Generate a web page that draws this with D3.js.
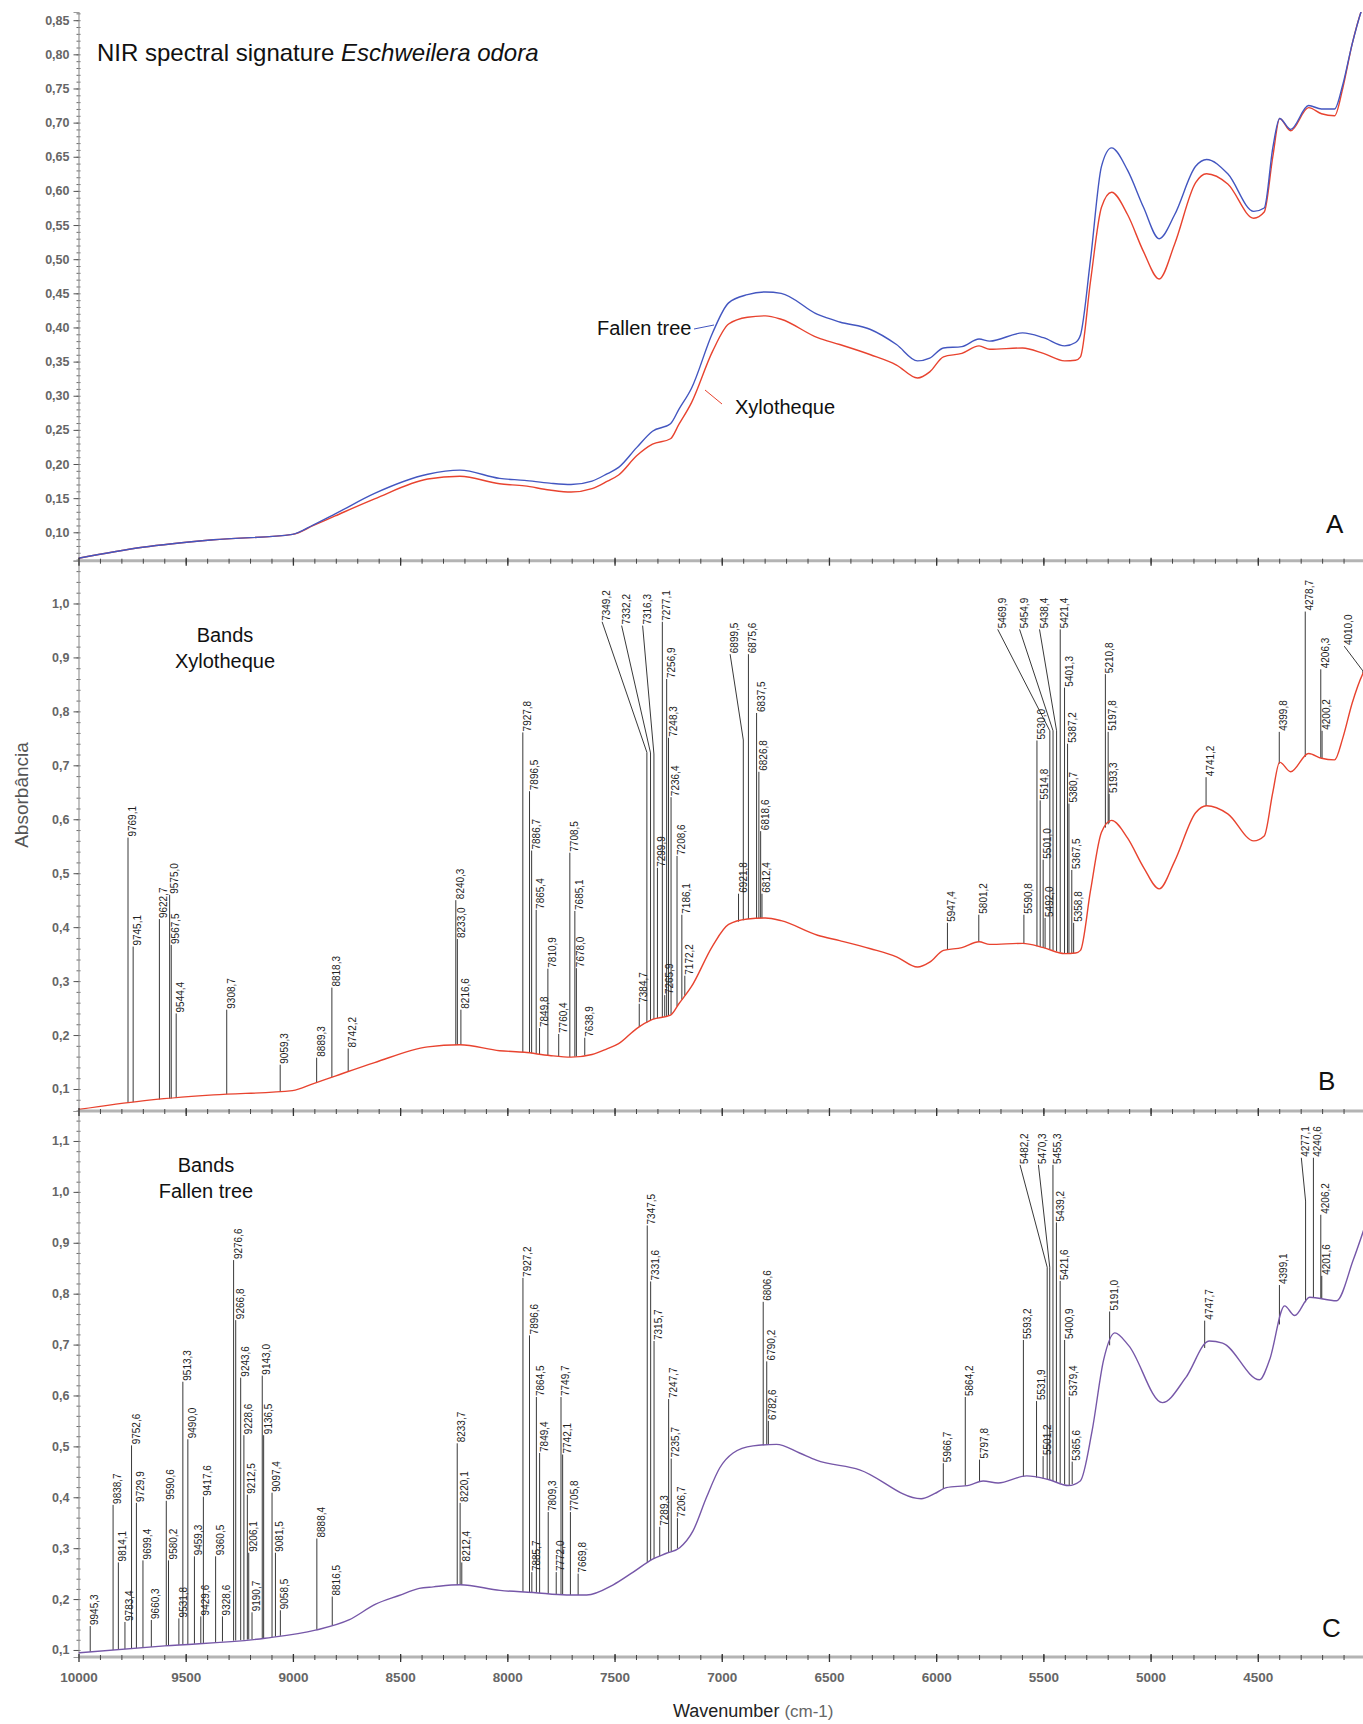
<!DOCTYPE html>
<html>
<head>
<meta charset="utf-8">
<script src="https://cdn.jsdelivr.net/npm/d3@7"></script>
<style>
  body { margin: 0; background: #fff; }
  svg { display: block; font-family: "Liberation Sans", Arial, sans-serif; }
</style>
</head>
<body>
<div class="chart"></div>
<script>
// spectra (wavenumber, absorbance)
const wnA = [10000,9701,9370,9002,8904,8803,8619,8371,8221,8036,7920,7803,7703,7605,7533,7481,7397,7323,7239,7200,
  7141,7043,6968,6880,6796,6723,6553,6450,6306,6185,6087,6030,5966,5880,5800,5750,5597,5500,5401,5350,
  5327,5280,5229,5182,5107,5033,4960,4888,4790,4739,4640,4519,4470,4430,4398,4347,4263,4203,4142,4104,
  4060,4010,3990];
const fallenA = [0.062,0.078,0.089,0.097,0.111,0.127,0.157,0.185,0.191,0.179,0.176,0.172,0.170,0.175,0.186,0.195,0.224,0.248,0.259,0.280,
  0.311,0.392,0.436,0.448,0.452,0.450,0.419,0.408,0.397,0.375,0.351,0.355,0.370,0.372,0.383,0.380,0.392,0.385,0.373,0.378,
  0.389,0.500,0.636,0.663,0.630,0.576,0.530,0.565,0.636,0.646,0.625,0.570,0.575,0.663,0.706,0.690,0.725,0.720,0.720,0.755,
  0.815,0.870,0.885];
const xylo = [0.062,0.078,0.089,0.097,0.110,0.124,0.149,0.178,0.182,0.171,0.168,0.162,0.159,0.164,0.175,0.184,0.212,0.229,0.237,0.258,
  0.290,0.365,0.405,0.415,0.417,0.412,0.385,0.375,0.360,0.345,0.326,0.335,0.357,0.362,0.373,0.368,0.370,0.362,0.351,0.352,
  0.357,0.468,0.576,0.598,0.565,0.511,0.471,0.522,0.612,0.625,0.610,0.560,0.569,0.650,0.706,0.688,0.722,0.713,0.710,0.750,
  0.815,0.870,0.885];

const wnC = [10000,9598,9130,8895,8739,8614,8505,8411,8345,8220,8034,7879,7724,7630,7506,7413,7320,7258,7196,7134,
  7071,7009,6947,6854,6745,6637,6559,6357,6070,6008,5953,5844,5781,5711,5578,5477,5383,5328,5273,5219,
  5167,5102,4945,4836,4727,4664,4492,4445,4375,4328,4258,4133,4055,3992];
const fallenC = [0.0945,0.108,0.123,0.139,0.159,0.190,0.207,0.221,0.224,0.228,0.217,0.213,0.208,0.208,0.228,0.253,0.279,0.290,0.301,0.334,
  0.400,0.458,0.487,0.501,0.504,0.487,0.473,0.454,0.397,0.407,0.419,0.424,0.432,0.428,0.442,0.435,0.423,0.432,0.530,0.670,
  0.723,0.698,0.586,0.635,0.707,0.703,0.631,0.670,0.776,0.757,0.793,0.786,0.866,0.943];

// bands: [wavenumber, absorbance where the label starts]
const bandsXylo = [[9769.1,0.566],[9745.1,0.364],[9622.7,0.415],[9575.0,0.460],[9567.5,0.367],[9544.4,0.240],[9308.7,0.247],
  [9059.3,0.145],[8889.3,0.158],[8818.3,0.288],[8742.2,0.175],[8240.3,0.450],[8233.0,0.378],[8216.6,0.247],
  [7927.8,0.761],[7896.5,0.652],[7886.7,0.542],[7865.4,0.432],[7849.8,0.213],[7810.9,0.323],[7760.4,0.202],
  [7708.5,0.538],[7685.1,0.430],[7678.0,0.324],[7638.9,0.195],[7384.7,0.258],[7299.9,0.510],[7277.1,0.966],
  [7265.9,0.274],[7256.9,0.860],[7248.3,0.751],[7236.4,0.641],[7208.6,0.532],[7186.1,0.423],[7172.2,0.310],
  [6921.8,0.462],[6875.6,0.906],[6837.5,0.797],[6826.8,0.688],[6818.6,0.578],[6812.4,0.462],
  [5947.4,0.408],[5801.2,0.423],[5590.8,0.423],[5530.0,0.746],[5514.8,0.635],[5501.0,0.525],[5492.0,0.417],
  [5421.4,0.952],[5401.3,0.844],[5387.2,0.740],[5380.7,0.629],[5367.5,0.506],[5358.8,0.408],
  [5210.8,0.869],[5197.8,0.762],[5193.3,0.647],[4741.2,0.678],[4399.8,0.762],[4278.7,0.985],[4206.3,0.878],[4200.2,0.764]];
// leader bands: [wavenumber, absorbance of bend, wavenumber of label, absorbance of label]
const leadersXylo = [[7349.2,0.724,7558,0.966],[7332.2,0.723,7467,0.959],[7316.3,0.721,7369,0.959],[6899.5,0.747,6961,0.906],
  [5469.9,0.764,5713,0.952],[5454.9,0.764,5611,0.952],[5438.4,0.764,5518,0.952],[4010.0,0.875,4097,0.921]];

const bandsFallen = [[9945.3,0.147],[9838.7,0.385],[9814.1,0.272],[9783.4,0.155],[9752.6,0.502],[9729.9,0.389],[9699.4,0.276],
  [9660.3,0.159],[9590.6,0.393],[9580.2,0.276],[9531.8,0.162],[9513.3,0.627],[9490.0,0.514],[9459.3,0.284],
  [9429.6,0.166],[9417.6,0.401],[9360.5,0.284],[9328.6,0.166],[9276.6,0.866],[9266.8,0.748],[9243.6,0.635],
  [9228.6,0.522],[9212.5,0.405],[9206.1,0.291],[9190.7,0.174],[9143.0,0.639],[9136.5,0.522],[9097.4,0.409],
  [9081.5,0.291],[9058.5,0.178],[8888.4,0.319],[8816.5,0.205],[8233.7,0.506],[8220.1,0.389],[8212.4,0.272],
  [7927.2,0.831],[7896.6,0.718],[7885.7,0.253],[7864.5,0.597],[7849.4,0.487],[7809.3,0.371],[7772.0,0.253],
  [7749.7,0.597],[7742.1,0.484],[7705.8,0.371],[7669.8,0.250],[7347.5,0.934],[7331.6,0.824],[7315.7,0.707],
  [7289.3,0.342],[7247.7,0.593],[7235.7,0.476],[7206.7,0.359],[6806.6,0.784],[6790.2,0.667],[6782.6,0.550],
  [5966.7,0.467],[5864.2,0.597],[5797.8,0.474],[5593.2,0.709],[5531.9,0.589],[5501.2,0.481],[5455.3,1.053],
  [5439.2,0.940],[5421.6,0.825],[5400.9,0.709],[5379.4,0.597],[5365.6,0.470],[5191.0,0.765],[4747.7,0.747],
  [4399.1,0.817],[4240.6,1.067],[4206.2,0.955],[4201.6,0.835]];
const leadersFallen = [[5482.2,0.852,5609,1.053],[5470.3,0.852,5523,1.053],[4277.1,0.982,4297,1.067]];

const xTicks = d3.range(4500, 10001, 500);
const yTicksA = d3.range(0.10, 0.851, 0.05);
const yTicksB = d3.range(0.1, 1.01, 0.1);
const yTicksC = d3.range(0.1, 1.11, 0.1);

const W = 1363, H = 1724;
const svg = d3.select(".chart").append("svg")
  .attr("width", W).attr("height", H);
svg.append("rect").attr("width", W).attr("height", H).attr("fill", "#fff");

const x = d3.scaleLinear().domain([10000, 4000]).range([78.5, 1365]);
const x0 = x(10000);

const yA = d3.scaleLinear().domain([0.0584, 0.862]).range([560.7, 12]);
const yB = d3.scaleLinear().domain([0.0592, 1.0793]).range([1111, 560.7]);
const yC = d3.scaleLinear().domain([0.0862, 1.1589]).range([1657, 1111]);

const comma = (d, n) => d.toFixed(n).replace(".", ",");

// linear reading of a spectrum at one wavenumber (for the foot of a band line)
function specAt(wn, ws, vs) {
  let i = 0;
  while (i < ws.length - 2 && ws[i + 1] > wn) i++;
  const t = (ws[i] - wn) / (ws[i] - ws[i + 1]);
  return vs[i] + t * (vs[i + 1] - vs[i]);
}

function clipFor(id, y) {
  const r = y.range();
  svg.append("clipPath").attr("id", id).append("rect")
    .attr("x", x0).attr("y", r[1]).attr("width", W - x0).attr("height", r[0] - r[1]);
}
clipFor("cA", yA); clipFor("cB", yB); clipFor("cC", yC);

function yAxis(y, ticks, minorStep, digits) {
  const g = svg.append("g").attr("transform", `translate(${x0},0)`);
  const d = y.domain();
  const minor = d3.range(Math.ceil(d[0] / minorStep) * minorStep, d[1], minorStep);
  g.append("g").call(d3.axisLeft(y).tickValues(minor).tickSize(2).tickFormat(""))
    .call(a => a.select(".domain").remove())
    .call(a => a.selectAll("line").attr("stroke", "#666").attr("x2", 2).attr("x1", -2));
  g.append("g").call(d3.axisLeft(y).tickValues(ticks).tickSize(5).tickPadding(4)
      .tickFormat(v => comma(v, digits)))
    .call(a => a.select(".domain").attr("stroke", "#999").attr("stroke-width", 1.2))
    .call(a => a.selectAll("line").attr("stroke", "#555"))
    .call(a => a.selectAll("text").attr("font-size", 12.5).attr("fill", "#666").attr("font-weight", "bold")
      .attr("font-family", "Liberation Sans, Arial, sans-serif"));
}

function xAxis(yPos, labels) {
  const g = svg.append("g").attr("transform", `translate(0,${yPos})`);
  g.append("line").attr("x1", x0).attr("x2", W).attr("stroke", "#b4b4b4").attr("stroke-width", 3);
  g.append("g").call(d3.axisBottom(x).tickValues(d3.range(4100, 10000, 100)).tickSize(3).tickFormat(""))
    .call(a => a.select(".domain").remove())
    .call(a => a.selectAll("line").attr("stroke", "#444").attr("y1", -2));
  const maj = g.append("g").call(d3.axisBottom(x).tickValues(xTicks).tickSize(5).tickPadding(10)
      .tickFormat(labels ? d3.format("d") : ""))
    .call(a => a.select(".domain").remove())
    .call(a => a.selectAll("line").attr("stroke", "#333").attr("y1", -3).attr("stroke-width", 1.3));
  maj.selectAll("text").attr("font-size", 13.5).attr("fill", "#666").attr("font-weight", "bold")
    .attr("font-family", "Liberation Sans, Arial, sans-serif");
}

function spectrum(ws, vs, y, color, clip) {
  const line = d3.line().x(d => x(d[0])).y(d => y(d[1])).curve(d3.curveMonotoneX);
  svg.append("path").datum(d3.zip(ws, vs))
    .attr("clip-path", `url(#${clip})`)
    .attr("d", line).attr("fill", "none").attr("stroke", color).attr("stroke-width", 1.4);
}

function bandLabel(g, px, py, wn) {
  g.append("text")
    .attr("transform", `translate(${px + 8},${py - 1}) rotate(-90)`)
    .attr("font-size", 10).attr("fill", "#222")
    .text(comma(wn, 1));
}

function drawBands(y, bands, leaders, ws, vs, clip) {
  const g = svg.append("g").attr("clip-path", `url(#${clip})`);
  bands.forEach(([wn, top]) => {
    const bx = x(wn);
    g.append("line").attr("x1", bx).attr("x2", bx)
      .attr("y1", y(specAt(wn, ws, vs))).attr("y2", y(top))
      .attr("stroke", "#222").attr("stroke-width", 0.9);
    bandLabel(g, bx, y(top), wn);
  });
  leaders.forEach(([wn, bend, lw, top]) => {
    const bx = x(wn);
    const pts = [[bx, y(specAt(wn, ws, vs))], [bx, y(bend)], [x(lw), y(top)]];
    g.append("polyline").attr("points", pts.map(p => p.join(",")).join(" "))
      .attr("fill", "none").attr("stroke", "#222").attr("stroke-width", 0.9);
    bandLabel(g, x(lw), y(top), wn);
  });
}

// axes
yAxis(yA, yTicksA, 0.01, 2);
yAxis(yB, yTicksB, 0.02, 1);
yAxis(yC, yTicksC, 0.02, 1);

// panel A
spectrum(wnA, xylo, yA, "#e8432f", "cA");
spectrum(wnA, fallenA, yA, "#4356c0", "cA");

// panel B and C
drawBands(yB, bandsXylo, leadersXylo, wnA, xylo, "cB");
spectrum(wnA, xylo, yB, "#e8432f", "cB");
drawBands(yC, bandsFallen, leadersFallen, wnC, fallenC, "cC");
spectrum(wnC, fallenC, yC, "#7657a8", "cC");

xAxis(yA.range()[0], false);
xAxis(yB.range()[0], false);
xAxis(yC.range()[0], true);

// texts
const title = svg.append("text").attr("x", 97).attr("y", 61).attr("font-size", 24).attr("fill", "#111");
title.append("tspan").text("NIR spectral signature ");
title.append("tspan").attr("font-style", "italic").text("Eschweilera odora");

svg.append("text").attr("x", 597).attr("y", 335).attr("font-size", 20).attr("fill", "#111").text("Fallen tree");
svg.append("line").attr("x1", 694).attr("y1", 329).attr("x2", 714).attr("y2", 325)
  .attr("stroke", "#4356c0").attr("stroke-width", 1);
svg.append("text").attr("x", 735).attr("y", 414).attr("font-size", 20).attr("fill", "#111").text("Xylotheque");
svg.append("line").attr("x1", 705).attr("y1", 390).attr("x2", 722).attr("y2", 404)
  .attr("stroke", "#e8432f").attr("stroke-width", 1);

const tag = (t, px, py) => svg.append("text").attr("x", px).attr("y", py)
  .attr("font-size", 26).attr("fill", "#111").text(t);
tag("A", 1326, 533);
tag("B", 1318, 1090);
tag("C", 1322, 1637);

const block = (lines, cx, by) => lines.forEach((t, i) =>
  svg.append("text").attr("x", cx).attr("y", by + i * 26).attr("text-anchor", "middle")
    .attr("font-size", 20).attr("fill", "#111").text(t));
block(["Bands", "Xylotheque"], 225, 642);
block(["Bands", "Fallen tree"], 206, 1172);

svg.append("text").attr("transform", "translate(28,795) rotate(-90)")
  .attr("text-anchor", "middle").attr("font-size", 19).attr("fill", "#555").text("Absorbância");

const xl = svg.append("text").attr("x", 673).attr("y", 1717).attr("font-size", 18).attr("fill", "#222");
xl.append("tspan").text("Wavenumber ");
xl.append("tspan").attr("fill", "#666").attr("font-size", 17).text("(cm-1)");
</script>
</body>
</html>
